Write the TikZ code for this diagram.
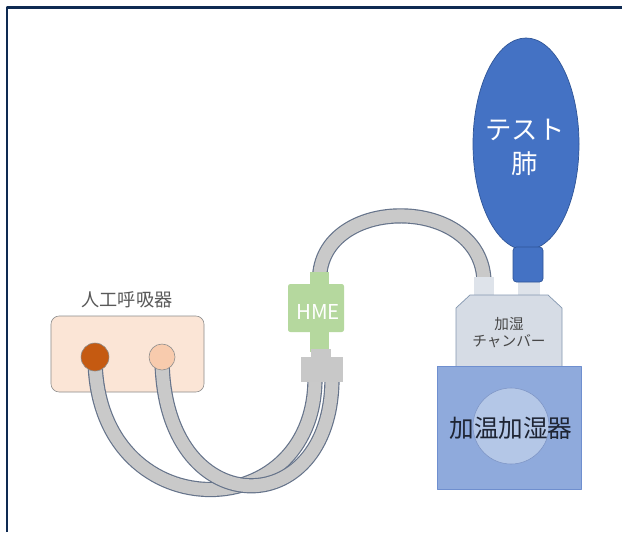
\documentclass[tikz,border=0pt]{standalone}
\usepackage{fontspec}
\setmainfont{Noto Sans CJK JP}
\usetikzlibrary{shapes.geometric}
\pgfdeclarelayer{back}
\pgfsetlayers{back,main}
\definecolor{frame}{HTML}{0E2A52}
\definecolor{ventfill}{HTML}{FBE5D6}
\definecolor{ventedge}{HTML}{8C8C8C}
\definecolor{inspcol}{HTML}{C55A11}
\definecolor{expcol}{HTML}{F8CBAD}
\definecolor{tubefill}{HTML}{C9C9C9}
\definecolor{tubeedge}{HTML}{65738A}
\definecolor{hmegreen}{HTML}{B5D89E}
\definecolor{conngray}{HTML}{C8C8C8}
\definecolor{stubgray}{HTML}{DEE3EA}
\definecolor{chamberfill}{HTML}{D6DCE5}
\definecolor{chamberedge}{HTML}{8497B0}
\definecolor{humblue}{HTML}{8FAADC}
\definecolor{humedge}{HTML}{6F8FCF}
\definecolor{diskfill}{HTML}{B4C7E7}
\definecolor{diskedge}{HTML}{7F96C6}
\definecolor{lungblue}{HTML}{4472C4}
\definecolor{lungedge}{HTML}{2F5597}
\definecolor{labelgray}{HTML}{595959}
\definecolor{textdark}{HTML}{1E2433}

\begin{document}
\begin{tikzpicture}[x=0.03cm, y=-0.03cm, line join=round,
    port/.style={circle, draw=ventedge, line width=0.5pt, inner sep=0pt},
    tube/.style={draw=tubeedge, line width=13pt, postaction={draw=tubefill, line width=11pt}}]
  \useasboundingbox (0,0) rectangle (622,532);
  \begin{pgfonlayer}{back}
    \fill[white] (0,0) rectangle (622,532);
  \end{pgfonlayer}
  \draw[frame, line width=2pt] (7,532) -- (7,7.5) -- (622,7.5);

  % ventilator with its two ports
  \begin{pgfonlayer}{back}
    \node[draw=ventedge, fill=ventfill, line width=0.5pt, rounded corners=7pt,
      minimum width=4.59cm, minimum height=2.28cm] (vent) at (127.5,354) {};
  \end{pgfonlayer}
  \node[text=labelgray, font=\fontsize{15.5}{18}\selectfont] (ventlabel) at (127,300) {人工呼吸器};
  \node[port, fill=inspcol, minimum size=0.84cm] (insp) at (95,357) {};
  \node[port, fill=expcol, minimum size=0.78cm] (exp) at (162,357) {};

  % HME with its lower connector
  \fill[hmegreen] (310,272) rectangle (329,352);
  \fill[hmegreen, rounded corners=2pt] (288,284) rectangle (344,332);
  \node[text=white, font=\fontsize{17.5}{20}\selectfont] (hme) at (318,312) {HME};
  \fill[conngray] (311,349) rectangle (331,358);
  \node[fill=conngray, inner sep=0pt, minimum width=1.26cm, minimum height=0.75cm] (hmeport) at (322,369.5) {};
  \coordinate (inA) at (315,378);
  \coordinate (inB) at (332,378);
  \coordinate (hmetop) at (319.5,280);

  % humidifier chamber and heater
  \fill[stubgray] (474,277) rectangle (494,296);
  \fill[stubgray] (518,277) rectangle (540,296);
  \coordinate (chin) at (484,283);
  \draw[chamberedge, fill=chamberfill, line width=0.6pt]
    (456,366) -- (456,308) -- (470,295) -- (548,295) -- (562,308) -- (562,366);
  \node[align=center, text=labelgray!80!black, font=\fontsize{12.5}{14.5}\selectfont] (chamber) at (509,333) {加湿\\チャンバー};
  \node[draw=humedge, fill=humblue, line width=0.5pt, inner sep=0pt,
    minimum width=4.32cm, minimum height=3.69cm] (heater) at (509,427.5) {};
  \node[circle, draw=diskedge, fill=diskfill, line width=0.5pt, inner sep=0pt, minimum size=2.28cm] (disk) at (511,426) {};
  \node[text=textdark, font=\fontsize{21}{24}\selectfont] (heaterlabel) at (511,428) {加温加湿器};

  % test lung
  \node[ellipse, draw=lungedge, fill=lungblue, line width=0.6pt, inner sep=0pt,
    minimum width=3.18cm, minimum height=6.36cm] (lung) at (526,144) {};
  \node[draw=lungedge, fill=lungblue, line width=0.6pt, rounded corners=3pt, inner sep=0pt,
    minimum width=0.9cm, minimum height=1.05cm] (neck) at (528,264.5) {};
  \node[align=center, text=white, font=\fontsize{22.5}{29}\selectfont] (lunglabel) at (525,147) {テスト\\肺};

  % breathing circuit
  \begin{pgfonlayer}{back}
    \draw[tube] (insp.center) .. controls +(0,173) and +(0,152) .. (inA);
    \draw[tube] (exp.center) .. controls +(0,168) and +(0,147) .. (inB);
    \draw[tube] (hmetop) .. controls +(0,-86) and +(0,-89) .. (chin);
  \end{pgfonlayer}
\end{tikzpicture}
\end{document}
